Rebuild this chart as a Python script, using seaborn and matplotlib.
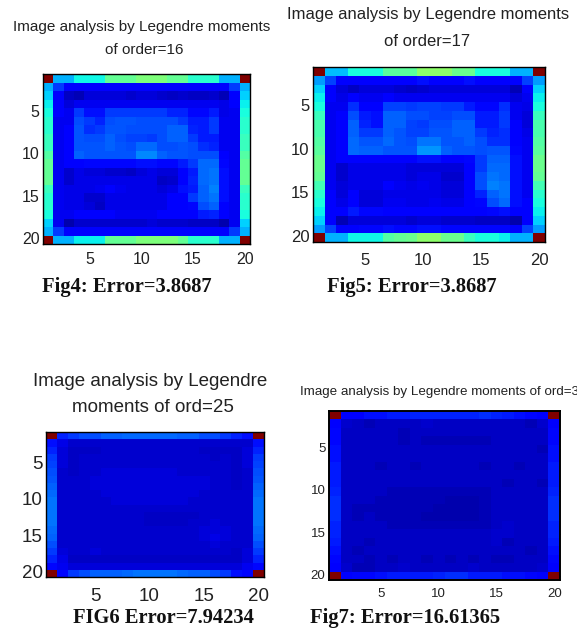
import numpy as np
import matplotlib
matplotlib.use("Agg")
import matplotlib.pyplot as plt
import seaborn as sns

W, H = 577, 632

# values are jet levels in percent, read by eye
fig4_values = [
    [100, 30, 30, 37, 37, 37, 47, 47, 47, 50, 50, 50, 47, 47, 40, 40, 40, 30, 30, 100],
    [30, 18, 11, 11, 11, 11, 12, 12, 12, 12, 12, 12, 12, 12, 12, 11, 11, 11, 18, 30],
    [33, 11, 6, 5, 8, 8, 8, 8, 7, 8, 8, 7, 6, 7, 6, 6, 7, 5, 11, 33],
    [36, 11, 8, 10, 10, 10, 10, 10, 10, 10, 10, 10, 10, 10, 10, 10, 10, 9, 11, 36],
    [38, 11, 10, 18, 14, 14, 18, 18, 18, 18, 18, 18, 16, 16, 13, 13, 15, 9, 10, 38],
    [40, 10, 10, 20, 18, 16, 20, 21, 21, 20, 20, 20, 20, 18, 15, 15, 18, 10, 10, 40],
    [40, 10, 11, 21, 17, 18, 21, 21, 20, 20, 20, 20, 22, 22, 16, 15, 18, 10, 10, 40],
    [42, 10, 11, 21, 20, 20, 22, 20, 19, 19, 18, 20, 22, 22, 18, 15, 15, 10, 10, 42],
    [42, 10, 11, 21, 21, 21, 22, 21, 20, 23, 23, 20, 20, 21, 20, 17, 16, 10, 10, 42],
    [45, 10, 11, 22, 21, 21, 21, 21, 21, 26, 26, 22, 21, 21, 20, 20, 20, 12, 10, 45],
    [47, 10, 11, 12, 13, 13, 13, 13, 13, 14, 14, 13, 13, 15, 18, 23, 23, 13, 10, 47],
    [47, 10, 7, 9, 8, 8, 7, 7, 6, 8, 9, 8, 8, 11, 15, 23, 24, 14, 10, 47],
    [47, 10, 7, 9, 9, 9, 9, 9, 9, 9, 9, 6, 7, 11, 16, 23, 24, 14, 10, 47],
    [42, 10, 9, 9, 9, 10, 12, 10, 9, 9, 9, 8, 9, 14, 15, 22, 25, 14, 10, 42],
    [40, 10, 9, 9, 7, 7, 9, 9, 9, 9, 9, 9, 11, 11, 18, 22, 24, 14, 10, 40],
    [40, 10, 9, 9, 8, 6, 9, 9, 9, 9, 9, 9, 11, 11, 13, 20, 22, 12, 10, 40],
    [38, 10, 10, 12, 12, 11, 11, 10, 10, 10, 10, 11, 11, 11, 11, 15, 16, 11, 10, 38],
    [33, 10, 4, 7, 7, 7, 7, 7, 7, 7, 8, 7, 7, 7, 6, 6, 6, 4, 10, 33],
    [30, 18, 11, 12, 12, 11, 11, 11, 11, 11, 11, 11, 12, 12, 12, 11, 11, 11, 18, 30],
    [100, 30, 30, 36, 36, 36, 47, 47, 47, 50, 50, 50, 50, 47, 40, 40, 40, 30, 30, 100],
]
fig5_values = [
    [100, 31, 31, 38, 38, 38, 46, 46, 46, 52, 52, 52, 48, 48, 38, 38, 38, 30, 30, 100],
    [28, 19, 12, 12, 12, 12, 12, 12, 12, 14, 12, 12, 12, 14, 12, 12, 12, 12, 19, 28],
    [33, 12, 8, 6, 8, 8, 8, 7, 6, 7, 8, 8, 8, 8, 8, 8, 8, 5, 12, 33],
    [36, 12, 9, 12, 10, 10, 11, 10, 10, 10, 10, 10, 10, 10, 10, 10, 10, 8, 10, 36],
    [38, 10, 10, 17, 12, 12, 19, 19, 18, 19, 19, 18, 18, 15, 13, 13, 17, 10, 9, 38],
    [42, 10, 11, 20, 15, 14, 22, 22, 20, 20, 19, 19, 20, 20, 15, 15, 18, 10, 8, 42],
    [44, 10, 12, 22, 16, 14, 22, 22, 19, 18, 20, 20, 22, 22, 15, 15, 18, 11, 8, 44],
    [44, 10, 12, 22, 18, 18, 22, 21, 19, 19, 21, 21, 22, 22, 18, 16, 17, 11, 9, 44],
    [45, 10, 12, 23, 21, 21, 23, 21, 20, 24, 24, 21, 21, 22, 20, 17, 17, 11, 10, 45],
    [46, 10, 12, 23, 22, 22, 21, 21, 21, 27, 27, 22, 21, 21, 20, 21, 21, 13, 10, 46],
    [48, 10, 12, 12, 12, 12, 12, 12, 12, 14, 14, 12, 12, 13, 18, 22, 22, 14, 10, 48],
    [48, 10, 7, 9, 9, 9, 9, 9, 8, 8, 8, 8, 8, 12, 18, 23, 23, 14, 10, 48],
    [47, 10, 7, 9, 9, 9, 9, 9, 8, 9, 9, 7, 7, 12, 20, 24, 23, 14, 10, 47],
    [43, 10, 8, 9, 9, 9, 11, 10, 9, 10, 9, 8, 8, 12, 20, 25, 24, 14, 10, 43],
    [40, 11, 8, 11, 8, 8, 9, 9, 9, 9, 9, 8, 8, 12, 16, 22, 24, 14, 10, 40],
    [38, 11, 9, 11, 8, 8, 10, 10, 9, 9, 10, 9, 9, 12, 13, 20, 23, 14, 11, 38],
    [36, 11, 11, 15, 13, 13, 12, 12, 12, 12, 12, 12, 12, 12, 12, 13, 14, 11, 11, 36],
    [33, 11, 5, 8, 8, 8, 8, 8, 7, 8, 8, 7, 7, 7, 6, 6, 6, 4, 11, 33],
    [28, 19, 12, 12, 13, 13, 14, 13, 13, 14, 14, 13, 13, 13, 13, 13, 13, 12, 19, 28],
    [100, 30, 30, 37, 37, 37, 45, 47, 48, 52, 52, 48, 48, 42, 38, 38, 36, 30, 30, 100],
]
fig6_values = [
    [100, 16, 18, 20, 20, 22, 22, 23, 23, 23, 23, 23, 22, 22, 20, 20, 18, 16, 14, 100],
    [14, 9, 7, 7, 7, 7, 7, 7, 7, 7, 7, 7, 7, 7, 7, 7, 7, 7, 7, 14],
    [16, 8, 6, 6, 6, 7, 7, 7, 7, 7, 7, 7, 7, 7, 6, 6, 6, 6, 8, 16],
    [18, 8, 6, 7, 7, 7, 7, 7, 7, 7, 7, 7, 7, 7, 7, 6, 7, 6, 8, 18],
    [19, 8, 6, 7, 7, 7, 7, 7, 7, 7, 7, 7, 7, 7, 7, 7, 7, 6, 8, 19],
    [20, 7, 6, 7, 7, 8, 8, 8, 8, 8, 8, 8, 7, 7, 7, 7, 7, 6, 7, 20],
    [21, 7, 7, 7, 8, 8, 8, 8, 8, 8, 8, 8, 8, 8, 8, 7, 7, 6, 7, 21],
    [22, 7, 7, 7, 8, 8, 8, 8, 8, 8, 8, 8, 8, 8, 8, 7, 7, 6, 7, 22],
    [23, 7, 7, 7, 7, 8, 8, 8, 8, 8, 8, 8, 8, 8, 7, 7, 7, 7, 7, 23],
    [24, 7, 7, 7, 7, 7, 8, 8, 8, 8, 8, 8, 8, 7, 7, 7, 7, 7, 7, 24],
    [24, 7, 7, 7, 7, 7, 7, 7, 7, 7, 7, 7, 7, 7, 7, 7, 7, 7, 7, 24],
    [24, 7, 7, 7, 7, 7, 7, 7, 7, 6, 6, 6, 6, 6, 7, 7, 7, 7, 7, 24],
    [24, 7, 7, 7, 7, 7, 7, 7, 7, 6, 6, 6, 6, 7, 7, 8, 7, 7, 7, 24],
    [23, 7, 7, 7, 7, 7, 7, 7, 7, 7, 7, 7, 7, 7, 8, 8, 8, 7, 7, 23],
    [22, 7, 7, 7, 7, 7, 7, 7, 7, 7, 7, 7, 7, 7, 8, 9, 8, 7, 7, 22],
    [20, 7, 7, 7, 7, 7, 7, 7, 7, 7, 7, 7, 7, 7, 7, 8, 7, 7, 7, 20],
    [18, 8, 7, 7, 8, 7, 7, 7, 7, 7, 7, 7, 7, 7, 7, 7, 7, 6, 8, 18],
    [16, 9, 6, 6, 6, 6, 6, 6, 6, 6, 6, 6, 6, 6, 6, 6, 6, 6, 8, 16],
    [13, 10, 8, 8, 8, 8, 8, 8, 8, 8, 8, 8, 8, 8, 8, 8, 8, 8, 10, 13],
    [100, 13, 18, 20, 22, 22, 22, 23, 24, 24, 24, 24, 23, 22, 22, 20, 18, 14, 13, 100],
]
fig7_values = [
    [100, 12, 12, 14, 14, 15, 15, 16, 16, 16, 16, 16, 16, 17, 16, 15, 14, 13, 12, 100],
    [12, 7, 6, 5, 6, 6, 6, 6, 7, 6, 6, 6, 6, 6, 6, 6, 6, 5, 7, 12],
    [13, 6, 6, 6, 6, 6, 5, 6, 6, 6, 6, 6, 6, 6, 6, 6, 6, 6, 6, 13],
    [13, 6, 6, 6, 6, 6, 5, 6, 5, 5, 5, 5, 5, 5, 6, 6, 6, 6, 6, 13],
    [14, 6, 6, 6, 6, 6, 6, 6, 6, 6, 6, 6, 6, 6, 6, 6, 6, 6, 5, 14],
    [14, 6, 6, 6, 6, 6, 6, 6, 6, 6, 6, 6, 6, 6, 6, 6, 6, 6, 6, 14],
    [15, 6, 6, 6, 5, 6, 6, 5, 6, 6, 6, 6, 6, 5, 6, 6, 5, 6, 6, 15],
    [15, 6, 6, 6, 6, 6, 6, 6, 6, 6, 6, 6, 6, 6, 6, 6, 6, 6, 6, 15],
    [15, 6, 6, 6, 6, 6, 6, 6, 6, 6, 6, 6, 6, 6, 6, 5, 6, 6, 5, 15],
    [16, 6, 6, 6, 6, 5, 5, 5, 5, 5, 5, 5, 5, 5, 6, 6, 6, 6, 6, 16],
    [17, 6, 6, 6, 5, 5, 5, 5, 5, 5, 4, 4, 4, 5, 6, 6, 6, 6, 6, 17],
    [17, 6, 5, 5, 5, 5, 5, 5, 5, 4, 4, 4, 4, 5, 6, 6, 6, 6, 6, 17],
    [17, 6, 5, 6, 5, 5, 5, 5, 4, 4, 4, 4, 4, 5, 6, 6, 6, 6, 6, 17],
    [16, 6, 6, 6, 6, 5, 5, 5, 5, 5, 5, 5, 5, 5, 6, 7, 6, 6, 6, 16],
    [16, 6, 6, 6, 6, 6, 6, 6, 6, 6, 6, 6, 6, 6, 7, 7, 6, 6, 6, 16],
    [15, 6, 6, 5, 6, 6, 6, 6, 6, 6, 6, 6, 6, 6, 7, 5, 6, 6, 6, 15],
    [14, 6, 5, 6, 6, 6, 6, 6, 6, 6, 6, 6, 6, 6, 6, 6, 6, 5, 6, 14],
    [13, 6, 6, 5, 6, 5, 6, 6, 5, 6, 5, 6, 5, 6, 5, 5, 6, 6, 6, 13],
    [12, 7, 5, 5, 6, 6, 7, 6, 6, 6, 6, 6, 7, 6, 6, 6, 6, 6, 7, 12],
    [100, 12, 13, 13, 14, 15, 15, 15, 15, 16, 17, 17, 15, 15, 15, 14, 14, 13, 12, 100],
]

tick_values = [5, 10, 15, 20]

# one entry per panel: values, axes box in pixels (left, top, right, bottom),
# tick font size, x label pad, spine width
panels = [
    (fig4_values, (43, 74, 250, 244), 11.5, 6, 1.0),
    (fig5_values, (313, 67, 545, 242), 12, 8, 1.0),
    (fig6_values, (46, 432, 264, 577), 13.5, 8, 1.0),
    (fig7_values, (329, 411, 560, 580), 9.5, 6, 1.4),
]

# text, x, y in pixels, horizontal alignment, size
titles = [
    ("Image analysis by Legendre moments", 142, 27, "center", 11),
    ("of order=16", 144, 50, "center", 11),
    ("Image analysis by Legendre moments", 428, 14, "center", 12),
    ("of order=17", 427, 41, "center", 12),
    ("Image analysis by Legendre", 150, 382, "center", 13.5),
    ("moments of ord=25", 153, 408, "center", 13.5),
    ("Image analysis by Legendre moments of ord=30", 300, 392, "left", 9.6),
]
captions = [
    ("Fig4: Error=3.8687", 42, 287),
    ("Fig5: Error=3.8687", 327, 287),
    ("FIG6 Error=7.94234", 73, 618),
    ("Fig7: Error=16.61365", 310, 618),
]

sns.set_style("white")
plt.rcParams['font.family'] = ['Liberation Sans', 'DejaVu Sans']

fig = plt.figure(figsize=(W / 100, H / 100), dpi=100)

for values, (left, top, right, bottom), tick_size, x_pad, spine_width in panels:
    ax = fig.add_axes([left / W, 1 - bottom / H, (right - left) / W, (bottom - top) / H])
    sns.heatmap(np.array(values) / 100, ax=ax, cmap='jet', vmin=0, vmax=1, cbar=False,
                square=False, linewidths=0, rasterized=True)
    centers = [t - 0.5 for t in tick_values]
    ax.set_xticks(centers, labels=tick_values, rotation=0)
    ax.set_yticks(centers, labels=tick_values, rotation=0)
    ax.tick_params(direction='in', length=2.5, width=0.7, color='black', labelsize=tick_size,
                   labelcolor='#222222', top=True, right=True, bottom=True, left=True)
    ax.tick_params(axis='x', pad=x_pad)
    ax.tick_params(axis='y', pad=2.5)
    for spine in ax.spines.values():
        spine.set_visible(True)
        spine.set_color('black')
        spine.set_linewidth(spine_width)

for text, x, y, ha, size in titles:
    fig.text(x / W, 1 - y / H, text, ha=ha, va='center', fontsize=size, color='#222222')

for text, x, y in captions:
    fig.text(x / W, 1 - y / H, text, ha='left', va='center', fontsize=14.8, fontweight='bold',
             family=['Liberation Serif', 'DejaVu Serif'], color='#111111')

fig.savefig('out.png', dpi=100)
plt.close(fig)
